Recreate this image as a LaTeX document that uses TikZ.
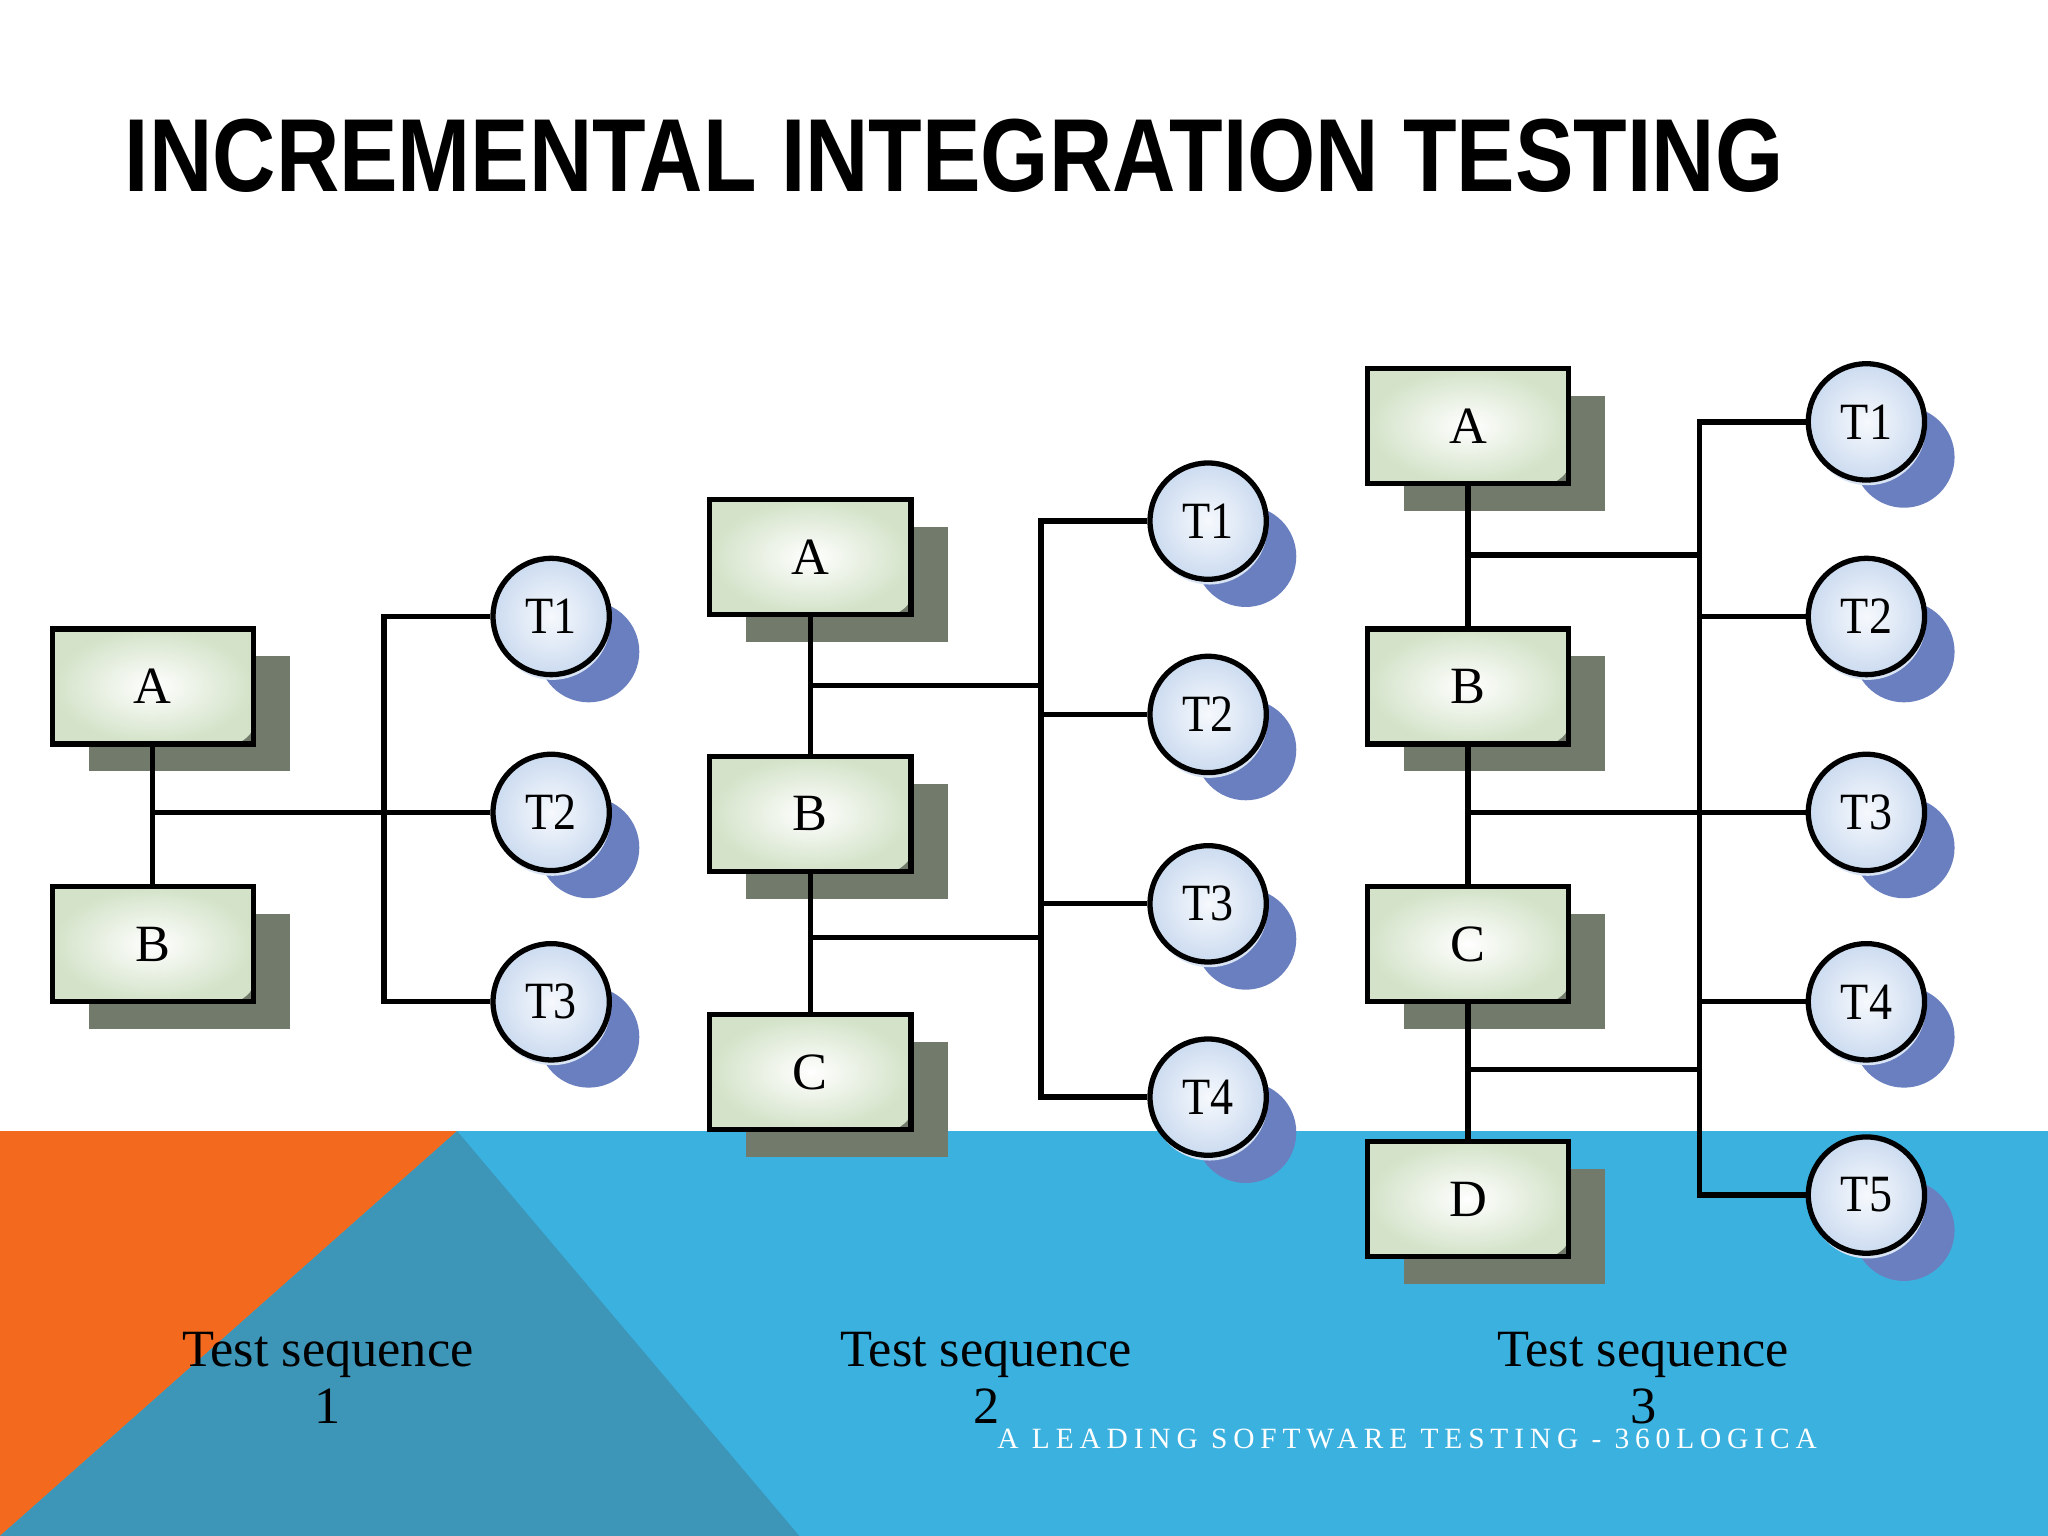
\documentclass[tikz,border=0pt]{standalone}
\usepackage{fontspec}
\usepackage{graphicx}
\setmainfont{Liberation Serif}
\newfontfamily\titlefont{Liberation Sans}
\newfontfamily\footfont[LetterSpace=20]{Liberation Serif}
\usetikzlibrary{shadows}
\definecolor{orng}{HTML}{F36A1F}
\definecolor{tealdk}{HTML}{3D95B7}
\definecolor{skyblue}{HTML}{3BB1DF}
\definecolor{shgrey}{HTML}{727A6B}
\definecolor{shblue}{HTML}{6A7FBF}
\definecolor{boxgreen}{HTML}{D3E2C8}
\definecolor{cin}{HTML}{F6F9FD}
\definecolor{cout}{HTML}{CCDBF0}
\definecolor{halo}{HTML}{D8E3F3}
\newcommand{\cnd}[1]{\scalebox{0.88}[1]{#1}}
\tikzset{
  modbox/.style={rectangle, draw=black, line width=1.15pt, minimum width=1.54cm, minimum height=0.88cm, inner sep=0pt,
    font=\fontsize{11.4}{13}\selectfont,
    general shadow={shadow xshift=0.28cm, shadow yshift=-0.21cm, fill=shgrey},
    path picture={\shade[inner color=white, outer color=boxgreen]
      (path picture bounding box.north west) -- (path picture bounding box.north east)
      -- ([yshift=0.28cm]path picture bounding box.south east)
      .. controls ([yshift=0.08cm]path picture bounding box.south east) .. ([xshift=-0.12cm]path picture bounding box.south east)
      -- (path picture bounding box.south west) -- cycle;}},
  testnode/.style={circle, draw=black, line width=1.15pt, minimum size=0.89cm, inner sep=0pt,
    inner color=cin, outer color=cout, font=\fontsize{11.4}{13}\selectfont,
    general shadow={shadow xshift=0.33cm, shadow yshift=-0.31cm, shadow scale=0.87, fill=shblue},
    general shadow={shadow xshift=0.01cm, shadow yshift=-0.04cm, fill=halo}},
  conn/.style={draw=black, line width=1.15pt},
  seqlabel/.style={anchor=north, align=center, inner sep=0pt, font=\fontsize{11.4}{12.5}\selectfont}
}
\begin{document}
\begin{tikzpicture}[x=0.01cm, y=-0.01cm]
\useasboundingbox (0,0) rectangle (1568,1176);
% background
\fill[white] (0,0) rectangle (1568,866);
\fill[skyblue] (0,866) rectangle (1568,1176);
\fill[orng] (0,866) -- (350,866) -- (0,1176) -- cycle;
\fill[tealdk] (350,866) -- (612,1176) -- (0,1176) -- cycle;
% title
\node[anchor=base west, inner sep=0pt] (title) at (95,147)
  {\scalebox{0.845}[1]{\titlefont\bfseries\fontsize{22.6}{26}\selectfont INCREMENTAL INTEGRATION TESTING}};
% coordinates
\coordinate (bus1) at (294,0);
\coordinate (bus2) at (797,0);
\coordinate (bus3) at (1301,0);
\coordinate (h2a) at (619,525);
\coordinate (h2b) at (619,718);
\coordinate (h3a) at (1123,425);
\coordinate (h3b) at (1123,819);
% ---- sequence 1
\node[modbox] (A1) at (117,525.5) {A};
\node[modbox] (B1) at (117,723) {B};
\node[testnode] (T11) at (422,472) {\cnd{T1}};
\node[testnode] (T12) at (422,622) {\cnd{T2}};
\node[testnode] (T13) at (422,767) {\cnd{T3}};
% ---- sequence 2
\node[modbox] (A2) at (620.5,426.5) {A};
\node[modbox] (B2) at (620.5,623) {B};
\node[modbox] (C2) at (620.5,821) {C};
\node[testnode] (T21) at (925,399) {\cnd{T1}};
\node[testnode] (T22) at (925,547) {\cnd{T2}};
\node[testnode] (T23) at (925,692) {\cnd{T3}};
\node[testnode] (T24) at (925,840) {\cnd{T4}};
% ---- sequence 3
\node[modbox] (A3) at (1124,326) {A};
\node[modbox] (B3) at (1124,525.5) {B};
\node[modbox] (C3) at (1124,723) {C};
\node[modbox] (D3) at (1124,918) {D};
\node[testnode] (T31) at (1429,323) {\cnd{T1}};
\node[testnode] (T32) at (1429,472) {\cnd{T2}};
\node[testnode] (T33) at (1429,622) {\cnd{T3}};
\node[testnode] (T34) at (1429,767) {\cnd{T4}};
\node[testnode] (T35) at (1429,915) {\cnd{T5}};
% connectors seq 1
\draw[conn] (A1.south) -- (B1.north);
\draw[conn] (A1.south |- T12.west) -- (T12.west);
\draw[conn] (T11.west) -| (bus1 |- T13.west) -- (T13.west);
% connectors seq 2
\draw[conn] (A2.south) -- (B2.north);
\draw[conn] (B2.south) -- (C2.north);
\draw[conn] (h2a) -- (h2a -| bus2);
\draw[conn] (h2b) -- (h2b -| bus2);
\draw[conn] (T21.west) -| (bus2 |- T24.west) -- (T24.west);
\draw[conn] (bus2 |- T22.west) -- (T22.west);
\draw[conn] (bus2 |- T23.west) -- (T23.west);
% connectors seq 3
\draw[conn] (A3.south) -- (B3.north);
\draw[conn] (B3.south) -- (C3.north);
\draw[conn] (C3.south) -- (D3.north);
\draw[conn] (h3a) -- (h3a -| bus3);
\draw[conn] (h3b) -- (h3b -| bus3);
\draw[conn] (B3.south |- T33.west) -- (T33.west);
\draw[conn] (T31.west) -| (bus3 |- T35.west) -- (T35.west);
\draw[conn] (bus3 |- T32.west) -- (T32.west);
\draw[conn] (bus3 |- T34.west) -- (T34.west);
% labels
\node[seqlabel] (L1) at (251,1019) {Test sequence\\1};
\node[seqlabel] (L2) at (755,1019) {Test sequence\\2};
\node[seqlabel] (L3) at (1258,1019) {Test sequence\\3};
\node[anchor=base west, inner sep=0pt, text=white] (foot) at (763,1109)
  {\footfont\fontsize{6.4}{8}\selectfont A LEADING SOFTWARE TESTING - 360LOGICA};
\end{tikzpicture}
\end{document}
